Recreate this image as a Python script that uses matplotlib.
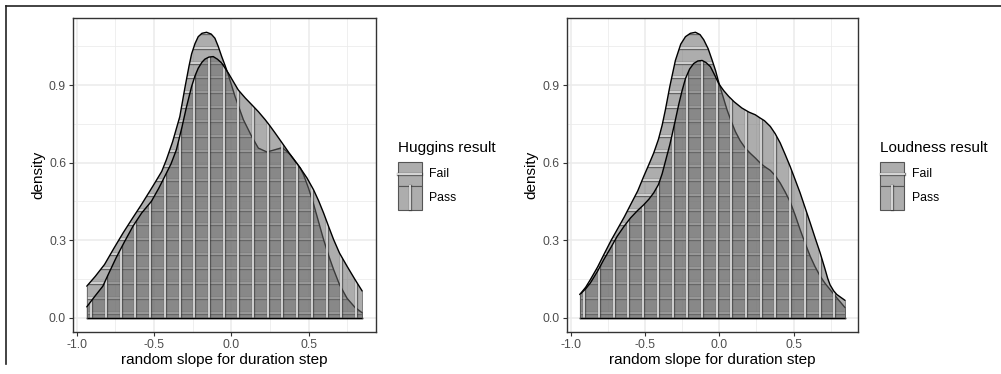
import matplotlib
matplotlib.use("Agg")
import matplotlib.pyplot as plt
import numpy as np
from matplotlib.collections import LineCollection
from matplotlib.patches import Rectangle
from matplotlib.lines import Line2D

plt.rcParams['font.family'] = ['Liberation Sans', 'DejaVu Sans']

# ---------------- data ----------------
huggins_fail_x = [-0.935, -0.88, -0.82, -0.76, -0.70, -0.64, -0.582, -0.53, -0.495, -0.45, -0.42, -0.38,
                  -0.333, -0.30, -0.273, -0.257, -0.235, -0.214, -0.19, -0.16, -0.13, -0.106, -0.085,
                  -0.062, -0.04, -0.019, 0.024, 0.078, 0.132, 0.175, 0.23, 0.284, 0.33, 0.381, 0.41,
                  0.446, 0.468, 0.50, 0.532, 0.565, 0.597, 0.63, 0.662, 0.70, 0.749, 0.80, 0.847]
huggins_fail_y = [0.122, 0.160, 0.206, 0.268, 0.328, 0.384, 0.437, 0.487, 0.521, 0.566, 0.611, 0.680,
                  0.778, 0.890, 0.975, 1.020, 1.060, 1.087, 1.100, 1.104, 1.097, 1.081, 1.050,
                  1.010, 0.975, 0.939, 0.856, 0.766, 0.701, 0.656, 0.641, 0.650, 0.658, 0.631, 0.608,
                  0.579, 0.552, 0.500, 0.440, 0.370, 0.302, 0.240, 0.186, 0.128, 0.075, 0.040, 0.019]

huggins_pass_x = [-0.935, -0.88, -0.831, -0.79, -0.745, -0.69, -0.636, -0.58, -0.517, -0.47, -0.43, -0.39,
                  -0.355, -0.32, -0.29, -0.257, -0.235, -0.214, -0.19, -0.171, -0.145, -0.117, -0.09,
                  -0.062, -0.04, -0.019, 0.045, 0.09, 0.132, 0.175, 0.219, 0.25, 0.284, 0.344, 0.381,
                  0.41, 0.446, 0.49, 0.532, 0.565, 0.597, 0.63, 0.662, 0.70, 0.749, 0.80, 0.847]
huggins_pass_y = [0.042, 0.085, 0.122, 0.175, 0.232, 0.295, 0.354, 0.405, 0.450, 0.500, 0.547, 0.595,
                  0.650, 0.735, 0.815, 0.894, 0.935, 0.965, 0.988, 1.000, 1.008, 1.010, 1.000,
                  0.985, 0.965, 0.946, 0.881, 0.850, 0.824, 0.797, 0.766, 0.742, 0.714, 0.663, 0.631,
                  0.608, 0.579, 0.540, 0.495, 0.452, 0.405, 0.352, 0.302, 0.250, 0.199, 0.148, 0.103]

loudness_fail_x = [-0.939, -0.90, -0.868, -0.82, -0.778, -0.73, -0.688, -0.64, -0.598, -0.55, -0.509,
                   -0.475, -0.442, -0.41, -0.385, -0.363, -0.334, -0.296, -0.26, -0.228, -0.195, -0.161,
                   -0.13, -0.105, -0.075, -0.049, -0.025, -0.004, 0.025, 0.052, 0.08, 0.108, 0.14,
                   0.175, 0.21, 0.242, 0.276, 0.304, 0.343, 0.376, 0.41, 0.443, 0.477, 0.51, 0.544,
                   0.578, 0.612, 0.645, 0.679, 0.712, 0.746, 0.791, 0.847]
loudness_fail_y = [0.090, 0.118, 0.148, 0.196, 0.244, 0.298, 0.341, 0.390, 0.437, 0.490, 0.547,
                   0.592, 0.637, 0.690, 0.745, 0.805, 0.893, 0.995, 1.058, 1.087, 1.100, 1.104,
                   1.095, 1.075, 1.040, 0.997, 0.955, 0.910, 0.855, 0.804, 0.760, 0.720, 0.685,
                   0.656, 0.635, 0.618, 0.598, 0.585, 0.570, 0.550, 0.521, 0.487, 0.448, 0.398, 0.341,
                   0.288, 0.238, 0.197, 0.161, 0.133, 0.109, 0.077, 0.039]

loudness_pass_x = [-0.939, -0.90, -0.868, -0.82, -0.778, -0.73, -0.688, -0.64, -0.598, -0.55, -0.509,
                   -0.475, -0.442, -0.41, -0.385, -0.363, -0.334, -0.318, -0.296, -0.273, -0.25, -0.228,
                   -0.20, -0.173, -0.145, -0.116, -0.09, -0.06, -0.03, -0.004, 0.03, 0.063, 0.10,
                   0.152, 0.20, 0.242, 0.276, 0.304, 0.343, 0.376, 0.41, 0.443, 0.477, 0.51, 0.544,
                   0.578, 0.612, 0.645, 0.679, 0.712, 0.73, 0.746, 0.77, 0.791, 0.82, 0.847]
loudness_pass_y = [0.090, 0.112, 0.135, 0.180, 0.225, 0.272, 0.315, 0.355, 0.386, 0.415, 0.437,
                   0.458, 0.483, 0.515, 0.557, 0.605, 0.668, 0.708, 0.765, 0.826, 0.880, 0.925,
                   0.962, 0.983, 0.993, 0.995, 0.987, 0.971, 0.937, 0.905, 0.878, 0.856, 0.835,
                   0.811, 0.795, 0.785, 0.772, 0.762, 0.740, 0.712, 0.676, 0.632, 0.585, 0.535, 0.483,
                   0.425, 0.367, 0.309, 0.251, 0.188, 0.152, 0.127, 0.104, 0.090, 0.078, 0.067]

groups = ["Fail", "Pass"]
legend_titles = ["Huggins result", "Loudness result"]
x_label = "random slope for duration step"
y_label = "density"
x_ticks = [-1.0, -0.5, 0.0, 0.5]
x_tick_labels = ["-1.0", "-0.5", "0.0", "0.5"]
x_minor = [-0.75, -0.25, 0.25, 0.75]
y_ticks = [0.0, 0.3, 0.6, 0.9]
y_tick_labels = ["0.0", "0.3", "0.6", "0.9"]
y_minor = [0.15, 0.45, 0.75, 1.05]

# ---------------- figure ----------------
W, H, DPI = 1001, 374, 100
fig = plt.figure(figsize=(W / DPI, H / DPI), dpi=DPI)


def px_rect(x0, y0, x1, y1):
    return [x0 / W, 1 - y1 / H, (x1 - x0) / W, (y1 - y0) / H]


ax1 = fig.add_axes(px_rect(73, 18, 376, 332))
ax2 = fig.add_axes(px_rect(566.7, 18, 858.3, 332))

STRIPE_PX = 14.7
FILL = '#6b6b6b'
ALPHA = 0.55
DARK_LW, DARK_A = 2.4, 0.6
LIGHT_LW, LIGHT_C = 1.4, '#d8d8d8'


def style(ax, xlim, ylab_x):
    ax.set_xlim(*xlim)
    ax.set_ylim(-0.0552, 1.1592)
    ax.set_xticks(x_ticks)
    ax.set_xticklabels(x_tick_labels)
    ax.set_yticks(y_ticks)
    ax.set_yticklabels(y_tick_labels)
    ax.set_xticks(x_minor, minor=True)
    ax.set_yticks(y_minor, minor=True)
    ax.grid(which='major', color='#ebebeb', lw=1.1)
    ax.grid(which='minor', color='#ebebeb', lw=0.55)
    ax.set_axisbelow(True)
    ax.tick_params(which='major', length=3.0, width=0.8, color='#333333',
                   labelcolor='#4d4d4d', labelsize=8.8, pad=2.0)
    ax.tick_params(which='minor', length=0)
    for s in ax.spines.values():
        s.set_color('#333333')
        s.set_linewidth(1.0)
    ax.set_xlabel(x_label, fontsize=11)
    ax.set_ylabel(y_label, fontsize=11)
    ax.xaxis.label.set_va('center')
    ax.xaxis.set_label_coords(0.5, -0.089)
    ax.yaxis.label.set_va('center')
    ax.yaxis.label.set_ha('center')
    ax.yaxis.set_label_coords(ylab_x, 0.5)


def draw_density(ax, x, y, orient, z):
    x = np.asarray(x)
    y = np.asarray(y)
    poly = ax.fill_between(x, 0, y, facecolor=FILL, alpha=ALPHA, edgecolor='none', zorder=z)
    path = poly.get_paths()[0]
    bb = ax.get_position()
    x0, x1 = ax.get_xlim()
    y0, y1 = ax.get_ylim()
    if orient == 'h':
        step = STRIPE_PX / (bb.height * H / (y1 - y0))
        pos = np.arange(0.02, y.max() + step, step)
        segs = [[(x.min(), p), (x.max(), p)] for p in pos]
    else:
        step = STRIPE_PX / (bb.width * W / (x1 - x0))
        pos = np.arange(x.min() + 0.03, x.max(), step)
        segs = [[(p, 0), (p, y.max() + 0.05)] for p in pos]
    dark = LineCollection(segs, colors='#333333', linewidths=DARK_LW, alpha=DARK_A, zorder=z + 0.1)
    light = LineCollection(segs, colors=LIGHT_C, linewidths=LIGHT_LW, alpha=0.95, zorder=z + 0.2)
    for lc in (dark, light):
        ax.add_collection(lc)
        lc.set_clip_path(path, ax.transData)
    ax.plot(x, y, color='black', lw=1.0, zorder=z + 0.3, solid_capstyle='round',
            solid_joinstyle='round')
    ax.plot([x[0], x[-1]], [0, 0], color='black', lw=1.0, zorder=z + 0.3)
    ax.plot([x[0], x[0]], [0, y[0]], color='#555555', lw=0.5, zorder=z + 0.3)
    ax.plot([x[-1], x[-1]], [0, y[-1]], color='#555555', lw=0.5, zorder=z + 0.3)


style(ax1, (-1.024, 0.936), -0.1155)
style(ax2, (-1.028, 0.936), -0.120)

draw_density(ax1, huggins_fail_x, huggins_fail_y, 'h', 2)
draw_density(ax1, huggins_pass_x, huggins_pass_y, 'v', 3)
draw_density(ax2, loudness_fail_x, loudness_fail_y, 'h', 2)
draw_density(ax2, loudness_pass_x, loudness_pass_y, 'v', 3)


def legend(x0, title):
    fig.text(x0 / W, 1 - 148 / H, title, fontsize=11, va='center', ha='left')
    kh = 23.9
    for i, (g, orient) in enumerate(zip(groups, ['h', 'v'])):
        top = 162 + i * kh
        r = Rectangle((x0 / W, 1 - (top + kh) / H), 24 / W, kh / H, facecolor='#adadad',
                      edgecolor='#555555', lw=0.8, transform=fig.transFigure)
        fig.add_artist(r)
        if orient == 'h':
            xs = [(x0 + 0.5) / W, (x0 + 23.5) / W]
            ys = [1 - (top + kh / 2) / H] * 2
        else:
            xs = [(x0 + 12) / W] * 2
            ys = [1 - (top + 0.5) / H, 1 - (top + kh - 0.5) / H]
        fig.add_artist(Line2D(xs, ys, color='#333333', lw=DARK_LW, alpha=DARK_A,
                              transform=fig.transFigure))
        fig.add_artist(Line2D(xs, ys, color=LIGHT_C, lw=LIGHT_LW, transform=fig.transFigure))
        fig.text((x0 + 31.5) / W, 1 - (top + kh / 2) / H, g, fontsize=8.8, va='center', ha='left')


legend(397.7, legend_titles[0])
legend(880.3, legend_titles[1])

# outer frame (top and left edges visible in reference)
fig.add_artist(Line2D([5.5 / W, 1.0], [1 - 5.5 / H] * 2, color='#222222', lw=1.2,
                      transform=fig.transFigure))
fig.add_artist(Line2D([6 / W] * 2, [1 - 5.5 / H, 1 - 364 / H], color='#222222', lw=1.2,
                      transform=fig.transFigure))

fig.savefig('out.png', dpi=DPI)
